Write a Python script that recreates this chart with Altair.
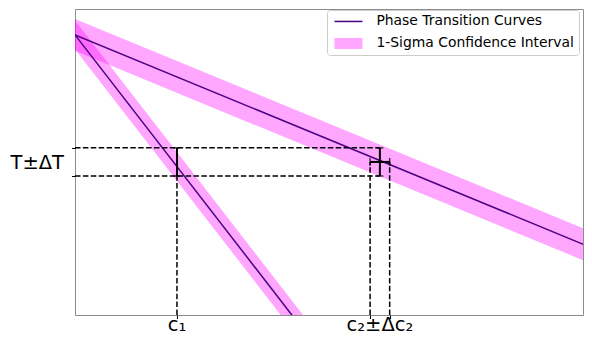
import altair as alt
import pandas as pd

# ---------------- data (arbitrary data units) ----------------
X_MAX = 9.864
Y_MAX = 9.776

line_name = "Phase Transition Curves"
band_name = "1-Sigma Confidence Interval"
legend_names = [line_name, band_name]

curve_ids = ["A", "A", "B", "B"]
curve_x = [0.0, 10.0, 0.0, 4.7]
curve_y = [8.95, 2.17, 8.95, -1.04]
curve_lo = [8.44, 1.66, 8.49, -1.50]
curve_hi = [9.46, 2.68, 9.41, -0.58]

T_val = 4.89
dT = 0.45
c1 = 1.98
c2 = 5.92
dc2 = 0.19

y_label_text = ["T±ΔT"]
x_label_text = ["c₁", "c₂±Δc₂"]
x_label_pos = [c1, c2]

LINE_COLOR = "#4B0082"
BAND_COLOR = "#FF00FF"
BAND_LEGEND_COLOR = "#FFA6FF"

# ---------------- tables ----------------
line_df = pd.DataFrame({"curve": curve_ids, "x": curve_x, "y": curve_y})
band_df = pd.DataFrame({"curve": curve_ids, "x": curve_x, "lo": curve_lo, "hi": curve_hi})
legend_df = pd.DataFrame({"kind": legend_names})

hdash_df = pd.DataFrame({"x": [0.0, 0.0], "x2": [c2, c2], "y": [T_val + dT, T_val - dT]})
vdash_df = pd.DataFrame({"x": [c1, c2 - dc2, c2 + dc2], "y": [0.0, 0.0, 0.0],
                         "y2": [T_val - dT, T_val, T_val]})
errv_df = pd.DataFrame({"x": [c1, c2], "y": [T_val - dT] * 2, "y2": [T_val + dT] * 2})
errh_df = pd.DataFrame({"x": [c2 - dc2], "x2": [c2 + dc2], "y": [T_val]})
capv_df = pd.DataFrame({"x": [c1, c1, c2, c2], "y": [T_val - dT, T_val + dT, T_val - dT, T_val + dT]})
caph_df = pd.DataFrame({"x": [c2 - dc2, c2 + dc2], "y": [T_val, T_val]})
ylab_df = pd.DataFrame({"text": y_label_text, "y": [T_val], "x": [0.0]})
xlab_df = pd.DataFrame({"text": x_label_text, "x": x_label_pos, "y": [0.0, 0.0]})

# ---------------- scales / axes ----------------
xscale = alt.Scale(domain=[0, X_MAX], nice=False, zero=False)
yscale = alt.Scale(domain=[0, Y_MAX], nice=False, zero=False)
xaxis = alt.Axis(values=[c1, c2 - dc2, c2 + dc2], labels=False, title=None, grid=False,
                 domain=False, ticks=True, tickColor="black", tickSize=3.5, tickWidth=1)
yaxis = alt.Axis(values=[T_val - dT, T_val + dT], labels=False, title=None, grid=False,
                 domain=False, ticks=True, tickColor="black", tickSize=3.5, tickWidth=1)

def X(f="x"):
    return alt.X(f"{f}:Q", scale=xscale, axis=xaxis)

def Y(f="y"):
    return alt.Y(f"{f}:Q", scale=yscale, axis=yaxis)

LINE_PATH = "M-2.8,-0.15H2.8V0.15H-2.8Z"
BAND_PATH = "M-2.8,-1.1H2.8V1.1H-2.8Z"

legend = alt.Legend(
    title=None, orient="none", legendX=252, legendY=1,
    symbolSize=100, symbolOffset=10, symbolOpacity=1, symbolStrokeWidth=0,
    labelFont="DejaVu Sans", labelFontSize=13.9, labelColor="black", labelOffset=21,
    labelLimit=0, padding=4.5, rowPadding=7,
    fillColor="rgba(255,255,255,0.8)", strokeColor="#cccccc", cornerRadius=3,
)

band = alt.Chart(band_df).mark_area(color=BAND_COLOR, opacity=0.35, clip=True).encode(
    x=X(), y=Y("lo"), y2="hi:Q", detail="curve:N",
)
line = alt.Chart(line_df).mark_line(color=LINE_COLOR, strokeWidth=1.5, clip=True).encode(
    x=X(), y=Y(), detail="curve:N",
)
key = alt.Chart(legend_df).mark_point(filled=True, opacity=0, size=100).encode(
    color=alt.Color("kind:N", scale=alt.Scale(domain=legend_names, range=[LINE_COLOR, BAND_LEGEND_COLOR]),
                    legend=legend),
    shape=alt.Shape("kind:N", scale=alt.Scale(domain=legend_names, range=[LINE_PATH, BAND_PATH]),
                    legend=legend),
)

dash = dict(color="black", strokeWidth=1.5, strokeDash=[5.5, 2.4])
hdash = alt.Chart(hdash_df).mark_rule(**dash).encode(x=X(), x2="x2:Q", y=Y())
vdash = alt.Chart(vdash_df).mark_rule(**dash).encode(x=X(), y=Y(), y2="y2:Q")

errv = alt.Chart(errv_df).mark_rule(color="black", strokeWidth=2).encode(x=X(), y=Y(), y2="y2:Q")
errh = alt.Chart(errh_df).mark_rule(color="black", strokeWidth=2).encode(x=X(), x2="x2:Q", y=Y())
capv = alt.Chart(capv_df).mark_tick(orient="horizontal", color="black", size=7, thickness=1.5).encode(x=X(), y=Y())
caph = alt.Chart(caph_df).mark_tick(orient="vertical", color="black", size=8, thickness=1.5).encode(x=X(), y=Y())

ylab = alt.Chart(ylab_df).mark_text(align="right", baseline="alphabetic", dx=-11, dy=7.5,
                                    font="DejaVu Sans", fontSize=19.5, color="black").encode(
    x=X(), y=Y(), text="text:N")
xlab = alt.Chart(xlab_df).mark_text(align="center", baseline="alphabetic", dy=16,
                                    font="DejaVu Sans", fontSize=19.5, color="black").encode(
    x=X(), y=Y(), text="text:N")

chart = alt.layer(band, line, hdash, vdash, errv, errh, capv, caph, ylab, xlab, key).properties(
    width=508, height=306,
    padding={"left": 67, "top": 1, "right": 1, "bottom": 22},
    autosize=alt.AutoSizeParams(type="none"),
).configure_view(stroke="#8c8c8c", strokeWidth=1)

chart.save("out.html", embed_options={"renderer": "svg", "actions": False})
